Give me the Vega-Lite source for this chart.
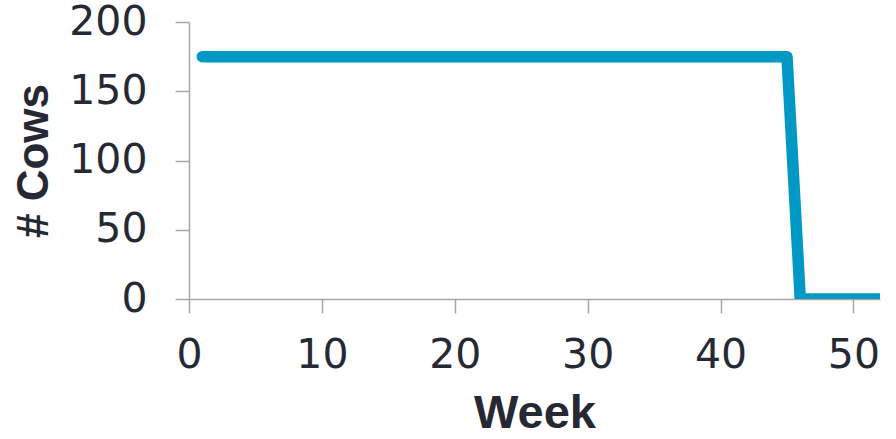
{
  "$schema": "https://vega.github.io/schema/vega-lite/v6.json",
  "width": 691,
  "height": 277,
  "autosize": {"type": "none"},
  "padding": {"left": 189, "top": 22, "right": 16, "bottom": 140},
  "background": "white",
  "config": {
    "view": {"stroke": null},
    "axis": {
      "grid": false,
      "domainColor": "#a6a6a6",
      "domainWidth": 1.5,
      "tickColor": "#a6a6a6",
      "tickWidth": 1.5,
      "tickSize": 14,
      "labelFont": "DejaVu Sans",
      "labelFontSize": 41,
      "labelColor": "#262833",
      "labelFlush": false,
      "labelOverlap": false,
      "labelBound": false,
      "titleFont": "Liberation Sans",
      "titleFontWeight": "bold",
      "titleColor": "#262833"
    }
  },
  "data": {
    "values": [
      {"week": 1, "cows": 175}, {"week": 2, "cows": 175}, {"week": 3, "cows": 175},
      {"week": 4, "cows": 175}, {"week": 5, "cows": 175}, {"week": 6, "cows": 175},
      {"week": 7, "cows": 175}, {"week": 8, "cows": 175}, {"week": 9, "cows": 175},
      {"week": 10, "cows": 175}, {"week": 11, "cows": 175}, {"week": 12, "cows": 175},
      {"week": 13, "cows": 175}, {"week": 14, "cows": 175}, {"week": 15, "cows": 175},
      {"week": 16, "cows": 175}, {"week": 17, "cows": 175}, {"week": 18, "cows": 175},
      {"week": 19, "cows": 175}, {"week": 20, "cows": 175}, {"week": 21, "cows": 175},
      {"week": 22, "cows": 175}, {"week": 23, "cows": 175}, {"week": 24, "cows": 175},
      {"week": 25, "cows": 175}, {"week": 26, "cows": 175}, {"week": 27, "cows": 175},
      {"week": 28, "cows": 175}, {"week": 29, "cows": 175}, {"week": 30, "cows": 175},
      {"week": 31, "cows": 175}, {"week": 32, "cows": 175}, {"week": 33, "cows": 175},
      {"week": 34, "cows": 175}, {"week": 35, "cows": 175}, {"week": 36, "cows": 175},
      {"week": 37, "cows": 175}, {"week": 38, "cows": 175}, {"week": 39, "cows": 175},
      {"week": 40, "cows": 175}, {"week": 41, "cows": 175}, {"week": 42, "cows": 175},
      {"week": 43, "cows": 175}, {"week": 44, "cows": 175}, {"week": 45, "cows": 175},
      {"week": 46, "cows": 0}, {"week": 47, "cows": 0}, {"week": 48, "cows": 0},
      {"week": 49, "cows": 0}, {"week": 50, "cows": 0}, {"week": 51, "cows": 0},
      {"week": 52, "cows": 0}
    ]
  },
  "mark": {
    "type": "line",
    "color": "#0099c6",
    "strokeWidth": 11.5,
    "strokeCap": "round",
    "strokeJoin": "round",
    "clip": true
  },
  "encoding": {
    "x": {
      "field": "week",
      "type": "quantitative",
      "title": "Week",
      "scale": {"domain": [0, 52], "nice": false, "zero": false},
      "axis": {"values": [0, 10, 20, 30, 40, 50], "labelPadding": 22, "titlePadding": 15, "titleFontSize": 47}
    },
    "y": {
      "field": "cows",
      "type": "quantitative",
      "title": "# Cows",
      "scale": {"domain": [0, 200], "nice": false},
      "axis": {"values": [0, 50, 100, 150, 200], "labelPadding": 28, "titlePadding": 12, "titleFontSize": 44}
    }
  }
}
